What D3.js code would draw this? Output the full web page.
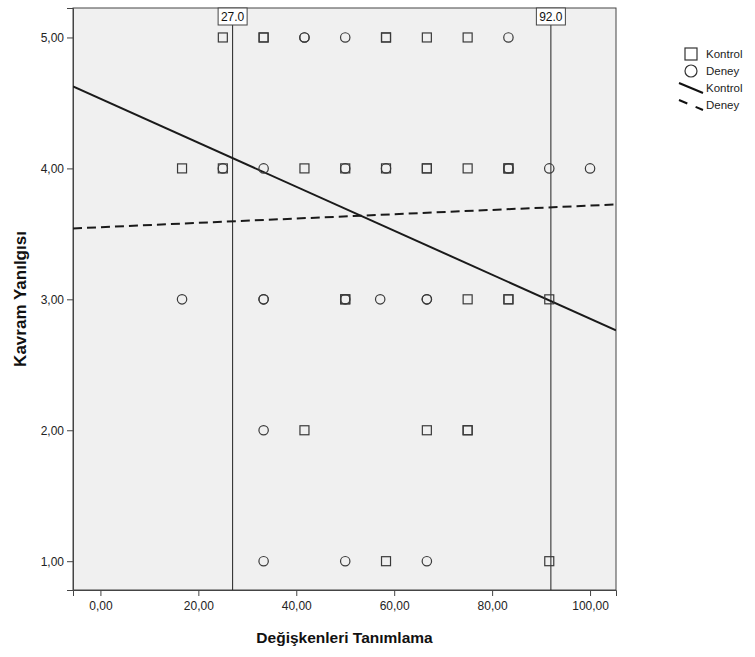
<!DOCTYPE html>
<html>
<head>
<meta charset="utf-8">
<script src="https://cdn.jsdelivr.net/npm/d3@7"></script>
<style>
  body { margin: 0; background: #fff; }
  svg { display: block; font-family: Arial, "Liberation Sans", sans-serif; }
</style>
</head>
<body>
<svg id="chart" width="755" height="657"></svg>
<script>
// Değişkenleri Tanımlama (x) vs Kavram Yanılgısı (y), two groups
const kontrolX = [25, 33.33, 33.33, 58.33, 58.33, 66.67, 75,
                  16.67, 25, 41.67, 50, 58.33, 66.67, 66.67, 75, 83.33, 83.33,
                  50, 50, 75, 83.33, 83.33, 91.67,
                  41.67, 66.67, 75, 75,
                  58.33, 91.67];
const kontrolY = [5, 5, 5, 5, 5, 5, 5,
                  4, 4, 4, 4, 4, 4, 4, 4, 4, 4,
                  3, 3, 3, 3, 3, 3,
                  2, 2, 2, 2,
                  1, 1];
const deneyX = [41.67, 41.67, 50, 83.33,
                25, 33.33, 50, 58.33, 83.33, 91.67, 100,
                16.67, 33.33, 33.33, 50, 57.14, 66.67, 66.67,
                33.33,
                33.33, 50, 66.67];
const deneyY = [5, 5, 5, 5,
                4, 4, 4, 4, 4, 4, 4,
                3, 3, 3, 3, 3, 3, 3,
                2,
                1, 1, 1];

// linear fit lines: [intercept, slope]
const kontrolFit = [4.532, -0.0168];
const deneyFit = [3.551, 0.00165];

// reference lines on x
const refLines = [27, 92];

const xTicks = [0, 20, 40, 60, 80, 100];
const yTicks = [1, 2, 3, 4, 5];
const legendLabels = ["Kontrol", "Deney", "Kontrol", "Deney"];

const fmt = v => d3.format(".2f")(v).replace(".", ",");

const svg = d3.select("#chart");
const m = { left: 73, right: 616, top: 8, bottom: 590 };
const xDomain = [-5.6, 105.3];
const x = d3.scaleLinear().domain(xDomain).range([m.left, m.right]);
const y = d3.scaleLinear().domain([0.78, 5.225]).range([m.bottom, m.top]);

// plot background
svg.append("rect")
  .attr("x", m.left).attr("y", m.top)
  .attr("width", m.right - m.left).attr("height", m.bottom - m.top)
  .attr("fill", "#f0f0f0").attr("stroke", "#444").attr("stroke-width", 1);

// axes
const xAxis = svg.append("g")
  .attr("transform", `translate(0,${m.bottom})`)
  .call(d3.axisBottom(x).tickValues(xTicks).tickFormat(fmt).tickSize(6).tickPadding(5));
const yAxis = svg.append("g")
  .attr("transform", `translate(${m.left},0)`)
  .call(d3.axisLeft(y).tickValues(yTicks).tickFormat(fmt).tickSize(6).tickPadding(3));
[xAxis, yAxis].forEach(g => {
  g.select(".domain").attr("stroke", "#444");
  g.selectAll(".tick line").attr("stroke", "#444");
  g.selectAll(".tick text").attr("fill", "#222").style("font-size", "12px")
    .style("font-family", "Arial, 'Liberation Sans', sans-serif");
});

// axis titles
svg.append("text")
  .attr("x", (m.left + m.right) / 2).attr("y", 643)
  .attr("text-anchor", "middle")
  .style("font-size", "15.5px").style("font-weight", "bold").attr("fill", "#111")
  .text("Değişkenleri Tanımlama");
svg.append("text")
  .attr("transform", `translate(26,${(m.top + m.bottom) / 2}) rotate(-90)`)
  .attr("text-anchor", "middle")
  .style("font-size", "17px").style("font-weight", "bold").attr("fill", "#111")
  .text("Kavram Yanılgısı");

// reference lines with value boxes
refLines.forEach(v => {
  const g = svg.append("g");
  g.append("line")
    .attr("x1", x(v)).attr("x2", x(v))
    .attr("y1", m.top).attr("y2", m.bottom)
    .attr("stroke", "#222").attr("stroke-width", 1);
  g.append("rect")
    .attr("x", x(v) - 14.5).attr("y", m.top)
    .attr("width", 29).attr("height", 17)
    .attr("fill", "#fff").attr("stroke", "#444").attr("stroke-width", 1);
  g.append("text")
    .attr("x", x(v)).attr("y", m.top + 13)
    .attr("text-anchor", "middle")
    .style("font-size", "12px").attr("fill", "#111")
    .text(d3.format(".1f")(v));
});

// clip to plot area for fit lines
svg.append("clipPath").attr("id", "plotClip")
  .append("rect")
  .attr("x", m.left).attr("y", m.top)
  .attr("width", m.right - m.left).attr("height", m.bottom - m.top);

const fitLine = d3.line().x(d => x(d[0])).y(d => y(d[1]));
function fitPoints(fit) {
  return xDomain.map(v => [v, fit[0] + fit[1] * v]);
}
svg.append("path")
  .attr("clip-path", "url(#plotClip)")
  .attr("d", fitLine(fitPoints(kontrolFit)))
  .attr("fill", "none").attr("stroke", "#1a1a1a").attr("stroke-width", 2);
svg.append("path")
  .attr("clip-path", "url(#plotClip)")
  .attr("d", fitLine(fitPoints(deneyFit)))
  .attr("fill", "none").attr("stroke", "#1a1a1a").attr("stroke-width", 2)
  .attr("stroke-dasharray", "9,5");

// points
const markerStroke = "#3a3a3a";
const sq = 9;
svg.append("g").selectAll("rect")
  .data(d3.zip(kontrolX, kontrolY))
  .join("rect")
  .attr("x", d => x(d[0]) - sq / 2).attr("y", d => y(d[1]) - sq / 2)
  .attr("width", sq).attr("height", sq)
  .attr("fill", "none").attr("stroke", markerStroke).attr("stroke-width", 1.2);
svg.append("g").selectAll("circle")
  .data(d3.zip(deneyX, deneyY))
  .join("circle")
  .attr("cx", d => x(d[0])).attr("cy", d => y(d[1]))
  .attr("r", 4.7)
  .attr("fill", "none").attr("stroke", markerStroke).attr("stroke-width", 1.2);

// legend
const lg = svg.append("g").attr("transform", "translate(691,0)");
const rowsY = [54, 71, 88, 105];
lg.append("rect").attr("x", -6).attr("y", rowsY[0] - 6).attr("width", 12).attr("height", 12)
  .attr("fill", "none").attr("stroke", "#333").attr("stroke-width", 1.2);
lg.append("circle").attr("cx", 0).attr("cy", rowsY[1]).attr("r", 6)
  .attr("fill", "none").attr("stroke", "#333").attr("stroke-width", 1.2);
lg.append("line").attr("x1", -12).attr("y1", rowsY[2] - 5).attr("x2", 12).attr("y2", rowsY[2] + 5)
  .attr("stroke", "#111").attr("stroke-width", 2);
lg.append("line").attr("x1", -12).attr("y1", rowsY[3] - 5).attr("x2", 12).attr("y2", rowsY[3] + 5)
  .attr("stroke", "#111").attr("stroke-width", 2).attr("stroke-dasharray", "9,9");
lg.selectAll("text.lab")
  .data(legendLabels)
  .join("text")
  .attr("class", "lab")
  .attr("x", 15).attr("y", (d, i) => rowsY[i] + 4)
  .style("font-size", "11.5px").attr("fill", "#222")
  .text(d => d);
</script>
</body>
</html>
